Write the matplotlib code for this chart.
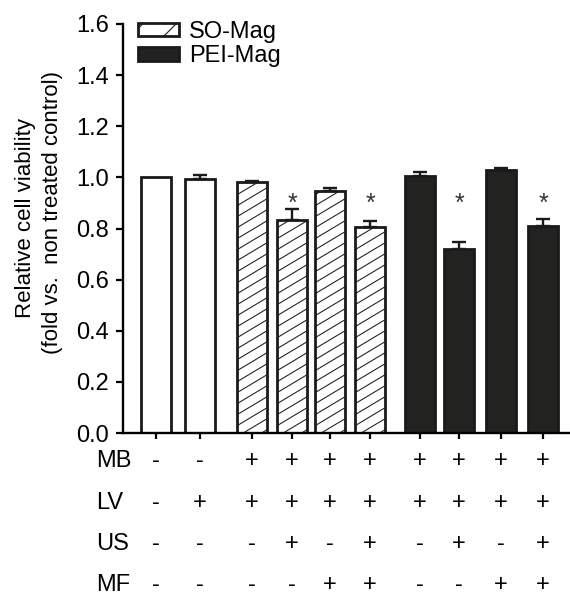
import matplotlib.pyplot as plt
import matplotlib.patches as mpatches
import numpy as np

plt.rcParams['font.family'] = ['Liberation Sans', 'DejaVu Sans']
plt.rcParams['hatch.linewidth'] = 0.8

# data
groups = ['ctrl', 'ctrl', 'SO-Mag', 'SO-Mag', 'SO-Mag', 'SO-Mag',
          'PEI-Mag', 'PEI-Mag', 'PEI-Mag', 'PEI-Mag']
viability = [1.0, 0.995, 0.98, 0.835, 0.948, 0.805, 1.007, 0.718, 1.028, 0.808]
errors = [0.0, 0.013, 0.006, 0.043, 0.012, 0.024, 0.013, 0.030, 0.010, 0.030]
significant = [False, False, False, True, False, True, False, True, False, True]
row_names = ['MB', 'LV', 'US', 'MF']
conditions = {
    'MB': ['-', '-', '+', '+', '+', '+', '+', '+', '+', '+'],
    'LV': ['-', '+', '+', '+', '+', '+', '+', '+', '+', '+'],
    'US': ['-', '-', '-', '+', '-', '+', '-', '+', '-', '+'],
    'MF': ['-', '-', '-', '-', '+', '+', '-', '-', '+', '+'],
}

# layout
xpos = np.array([0, 1.1, 2.4, 3.4, 4.35, 5.35, 6.6, 7.575, 8.625, 9.675])
bar_w = 0.73
dark = '#222220'
edge = '#1a1a1a'
W, H = 570, 595
ax_l, ax_b = 123, 433   # pixel position of the axes origin
ax_t = 24

fig = plt.figure(figsize=(W / 100, H / 100), dpi=100)
ax = fig.add_axes([ax_l / W, 1 - ax_b / H, (W - ax_l) / W, (ax_b - ax_t) / H])
ax.set_ylim(0, 1.6)
ax.set_xlim(-0.825, 10.35)

bars = []
for x, v, e, g in zip(xpos, viability, errors, groups):
    face = dark if g == 'PEI-Mag' else 'white'
    b = ax.bar(x, v, width=bar_w, color=face, edgecolor=edge, linewidth=2.0, zorder=2)[0]
    bars.append((b, g))
    if e > 0:
        ax.errorbar(x, v, yerr=[[0], [e]], fmt='none', ecolor=edge,
                    elinewidth=1.7, capsize=4.7, capthick=1.7, zorder=3)

# shallow diagonal hatching for SO-Mag bars, clipped to each bar
inv = ax.transData.inverted()
slope, gap = 0.6, 11.0
for b, g in bars:
    if g != 'SO-Mag':
        continue
    (x0, y0), (x1, y1) = ax.transData.transform([(b.get_x(), 0), (b.get_x() + b.get_width(), b.get_height())])
    c = y0 - slope * (x1 - x0) + 3
    while c < y1:
        pts = inv.transform([(x0, c), (x1, c + slope * (x1 - x0))])
        ln, = ax.plot(pts[:, 0], pts[:, 1], color=edge, lw=0.75, zorder=2.5)
        ln.set_clip_path(b)
        c += gap

for x, s in zip(xpos, significant):
    if s:
        ax.text(x, 0.897, '*', ha='center', va='center', fontsize=18, color='#333333')

ax.set_yticks(np.arange(0, 1.61, 0.2))
ax.set_yticklabels(['%.1f' % t for t in np.arange(0, 1.61, 0.2)], fontsize=17)
ax.set_xticks(xpos)
ax.set_xticklabels([])
ax.tick_params(axis='y', direction='out', length=5, width=1.6, pad=5)
ax.tick_params(axis='x', direction='out', length=4, width=1.6)
for side in ['top', 'right']:
    ax.spines[side].set_visible(False)
for side in ['left', 'bottom']:
    ax.spines[side].set_linewidth(1.7)

fig.text(26 / W, 1 - 218 / H, 'Relative cell viability', rotation=90,
         ha='center', va='center', fontsize=16)
fig.text(53 / W, 1 - 212 / H, '(fold vs.  non treated control)', rotation=90,
         ha='center', va='center', fontsize=16)

# condition table under the axis
row_px = [461, 503, 544, 585]
for name, ry in zip(row_names, row_px):
    fig.text(96 / W, 1 - ry / H, name, ha='left', va='center', fontsize=17)
    yax = (ax_b - ry) / (ax_b - ax_t)
    for x, sign in zip(xpos, conditions[name]):
        ax.text(x, yax, sign, transform=ax.get_xaxis_transform(), ha='center',
                va='center', fontsize=17, clip_on=False)

handles = [mpatches.Patch(facecolor='white', edgecolor=edge, hatch='/', linewidth=2.0),
           mpatches.Patch(facecolor=dark, edgecolor=edge, linewidth=2.0)]
fig.legend(handles, ['SO-Mag', 'PEI-Mag'], loc='upper left',
           bbox_to_anchor=(138 / W, 1 - 21 / H), frameon=False, fontsize=17,
           handlelength=1.75, handleheight=0.5, handletextpad=0.4, labelspacing=0.1,
           borderaxespad=0, borderpad=0)

fig.savefig('out.png', dpi=100)
